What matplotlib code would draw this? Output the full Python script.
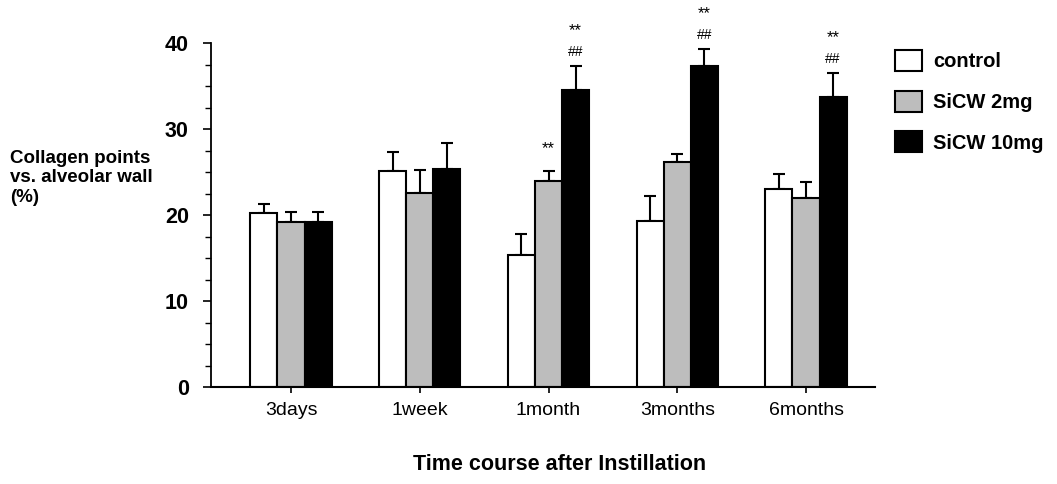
import numpy as np
import matplotlib
matplotlib.use("Agg")
import matplotlib.pyplot as plt

plt.rcParams['font.family'] = ['Liberation Sans', 'DejaVu Sans']

# data
times = ["3days", "1week", "1month", "3months", "6months"]
groups = ["control", "SiCW 2mg", "SiCW 10mg"]
means = {
    "control":   [20.2, 25.1, 15.3, 19.3, 23.0],
    "SiCW 2mg":  [19.2, 22.6, 24.0, 26.2, 22.0],
    "SiCW 10mg": [19.2, 25.4, 34.5, 37.3, 33.7],
}
sems = {
    "control":   [1.1, 2.2, 2.5, 2.9, 1.8],
    "SiCW 2mg":  [1.1, 2.6, 1.1, 0.9, 1.8],
    "SiCW 10mg": [1.1, 3.0, 2.8, 2.0, 2.8],
}
# significance marks (group, time index)
marks_star = [("SiCW 2mg", 2), ("SiCW 10mg", 2), ("SiCW 10mg", 3), ("SiCW 10mg", 4)]
marks_hash = [("SiCW 10mg", 2), ("SiCW 10mg", 3), ("SiCW 10mg", 4)]

colors = {"control": "white", "SiCW 2mg": "#bdbdbd", "SiCW 10mg": "black"}

fig = plt.figure(figsize=(10.57, 4.84), dpi=100)
ax = fig.add_axes([211/1057, 1-387/484, (875-211)/1057, (387-43)/484])

x = np.arange(len(times))
w = 0.21
for i, g in enumerate(groups):
    xs = x + (i-1)*w
    ax.bar(xs, means[g], w, color=colors[g], edgecolor="black", linewidth=1.5,
           label=g, zorder=2)
    ax.errorbar(xs, means[g], yerr=[np.zeros(len(times)), sems[g]], fmt="none",
                ecolor="black", elinewidth=1.5, capsize=4.5, capthick=1.5, zorder=1)

for g, t in marks_star:
    i = groups.index(g)
    top = means[g][t] + sems[g][t]
    off = 4.1 if (g, t) in marks_hash else 2.6
    ax.text(x[t] + (i-1)*w, top + off, "**", ha="center", va="center",
            fontsize=12, clip_on=False)
for g, t in marks_hash:
    i = groups.index(g)
    top = means[g][t] + sems[g][t]
    ax.text(x[t] + (i-1)*w, top + 1.6, "##", ha="center", va="center",
            fontsize=10, clip_on=False)

ax.set_xlim((211-291)/128.75, (875-291)/128.75)
ax.set_ylim(0, 40)
ax.set_yticks([0, 10, 20, 30, 40])
ax.set_yticks(np.arange(0, 40, 2.5), minor=True)
ax.set_xticks(x)
ax.set_xticklabels(times, fontsize=14)
for lab in ax.get_yticklabels():
    lab.set_fontsize(15.5)
    lab.set_fontweight("bold")
ax.tick_params(axis="y", which="major", length=6, width=1.2, pad=10)
ax.tick_params(axis="y", which="minor", length=4, width=1.0)
ax.tick_params(axis="x", length=4, width=1.2, pad=7)
ax.spines["top"].set_visible(False)
ax.spines["right"].set_visible(False)
ax.spines["left"].set_linewidth(1.3)
ax.spines["bottom"].set_linewidth(1.5)

fig.text(10/1057, 1-178/484, "Collagen points\nvs. alveolar wall\n(%)",
         ha="left", va="center", fontsize=13.5, fontweight="bold", linespacing=1.2)
fig.text(560/1057, 1-465/484, "Time course after Instillation",
         ha="center", va="center", fontsize=15.5, fontweight="bold")

leg = fig.legend(loc="upper left", bbox_to_anchor=(895/1057, 1-50/484),
                 frameon=False, borderpad=0, borderaxespad=0,
                 handlelength=1.35, handleheight=1.25, handletextpad=0.55,
                 labelspacing=0.95, prop={"size": 14.5, "weight": "bold"})

fig.savefig("out.png", dpi=100)
